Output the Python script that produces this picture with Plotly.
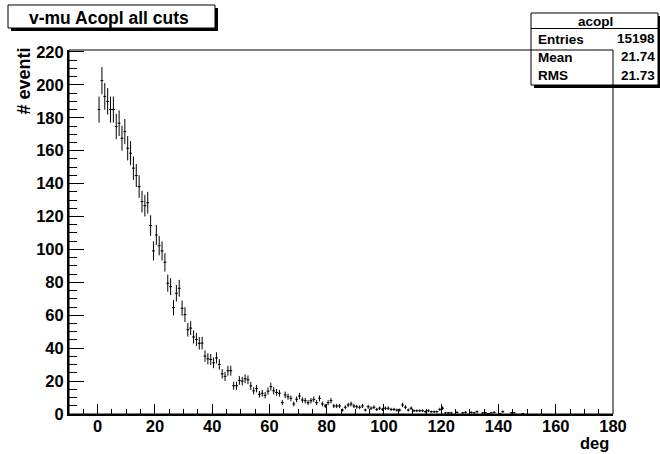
import numpy as np
import plotly.graph_objects as go

# Acoplanarity histogram: 1-degree bins starting at 0 deg (bin contents, weighted)
bin_low = 0.0
bin_width = 1.0
counts = [
    185.0, 202.6, 193.0, 190.0, 185.0, 185.0, 174.7, 176.7, 167.6, 171.6,
    161.5, 158.5, 149.4, 144.9, 138.2, 129.1, 126.6, 128.4, 114.5, 99.1,
    108.8, 102.3, 99.1, 92.2, 79.5, 77.4, 64.6, 73.4, 76.4, 64.3,
    60.4, 51.2, 52.2, 46.8, 45.3, 43.0, 43.1, 35.2, 33.6, 33.1,
    31.1, 34.1, 30.1, 24.4, 22.9, 26.3, 26.3, 17.2, 17.2, 20.4,
    20.0, 21.4, 20.8, 17.1, 14.1, 15.4, 12.0, 12.6, 11.4, 13.9,
    16.6, 14.1, 13.1, 12.6, 6.9, 11.6, 10.5, 9.5, 6.1, 8.9,
    10.9, 8.5, 8.1, 6.9, 8.1, 8.9, 6.9, 9.5, 6.1, 4.9,
    6.9, 8.1, 4.9, 4.9, 4.9, 2.4, 4.1, 5.5, 6.1, 4.9,
    4.4, 4.1, 4.9, 2.4, 4.4, 3.5, 4.1, 2.8, 3.5, 2.8,
    3.5, 3.5, 2.8, 2.8, 2.4, 2.4, 5.5, 4.1, 2.4, 3.5,
    2.0, 2.0, 2.0, 2.0, 1.4, 2.0, 1.4, 1.4, 1.4, 2.8,
    3.5, 0.7, 0.7, 0.7, 0.0, 1.0, 0.0, 0.7, 1.0, 0.0,
    1.0, 0.7, 1.4, 0.0, 0.7, 0.7, 0.3, 0.7, 1.0, 0.0,
    0.3, 1.4, 0.0, 0.0, 0.7, 0.7, 0.0, 0.0, 0.3, 0.0,
]
# per-event weight used when the histogram was filled
event_weight = 0.34

stats_labels = ["Entries", "Mean", "RMS"]
stats_values = ["15198", "21.74", "21.73"]
hist_name = "acopl"
title_text = "v-mu Acopl all cuts"

x_ticks = [0, 20, 40, 60, 80, 100, 120, 140, 160, 180]
y_ticks = [0, 20, 40, 60, 80, 100, 120, 140, 160, 180, 200, 220]

counts = np.array(counts)
centers = bin_low + bin_width * (np.arange(len(counts)) + 0.5)
errors = np.sqrt(counts * event_weight)
keep = counts > 0

W, H = 660, 454
L, R, T, B = 69, 47, 50, 40
PW, PH = W - L - R, H - T - B


def px(x):
    return (x - L) / PW


def py(y):
    return (H - B - y) / PH


FONT = "Liberation Sans, Arial, Helvetica, sans-serif"

fig = go.Figure()
fig.add_trace(go.Scatter(
    x=centers[keep], y=counts[keep], mode="markers",
    marker=dict(size=1, color="black"),
    error_y=dict(type="data", array=errors[keep], width=0, thickness=1, color="black"),
    error_x=dict(type="constant", value=bin_width / 2, width=0, thickness=1, color="black"),
    showlegend=False, hoverinfo="x+y",
))

shapes = []
# title box with drop shadow
shapes.append(dict(type="rect", xref="paper", yref="paper",
                   x0=px(11), x1=px(218), y0=py(8), y1=py(31),
                   fillcolor="black", line=dict(width=0), layer="below"))
shapes.append(dict(type="rect", xref="paper", yref="paper",
                   x0=px(8), x1=px(215), y0=py(5), y1=py(28),
                   fillcolor="white", line=dict(color="black", width=1), layer="below"))
# statistics box with drop shadow
shapes.append(dict(type="rect", xref="paper", yref="paper",
                   x0=px(534), x1=px(661), y0=py(16), y1=py(88),
                   fillcolor="black", line=dict(width=0), layer="below"))
shapes.append(dict(type="rect", xref="paper", yref="paper",
                   x0=px(531), x1=px(658), y0=py(13), y1=py(85),
                   fillcolor="white", line=dict(color="black", width=1), layer="below"))
shapes.append(dict(type="line", xref="paper", yref="paper",
                   x0=px(531), x1=px(658), y0=py(28.5), y1=py(28.5),
                   line=dict(color="black", width=1), layer="below"))
# frame
shapes.append(dict(type="rect", xref="paper", yref="paper",
                   x0=0, x1=1, y0=0, y1=1,
                   line=dict(color="black", width=1), layer="above"))
fig.update_layout(shapes=shapes)

ann = []
ann.append(dict(text=title_text, xref="paper", yref="paper", x=px(108.5), y=py(17.5),
                xanchor="center", yanchor="middle", showarrow=False,
                font=dict(family=FONT, size=17.5, color="black", weight="bold")))
ann.append(dict(text=hist_name, xref="paper", yref="paper", x=px(595), y=py(21),
                xanchor="center", yanchor="middle", showarrow=False,
                font=dict(family=FONT, size=13.5, color="black", weight="bold")))
for lab, val, yy in zip(stats_labels, stats_values, [39.5, 57.5, 76]):
    ann.append(dict(text=lab, xref="paper", yref="paper", x=px(536), y=py(yy),
                    xanchor="left", yanchor="middle", showarrow=False,
                    font=dict(family=FONT, size=13.5, color="black", weight="bold")))
    ann.append(dict(text=val, xref="paper", yref="paper", x=px(657), y=py(yy - 1),
                    xanchor="right", yanchor="middle", showarrow=False,
                    font=dict(family=FONT, size=13.5, color="black", weight="bold")))
ann.append(dict(text="deg", xref="paper", yref="paper", x=px(611), y=py(443),
                xanchor="right", yanchor="middle", showarrow=False,
                font=dict(family=FONT, size=16.5, color="black", weight="bold")))
ann.append(dict(text="# eventi", xref="paper", yref="paper", x=px(23), y=py(46),
                xanchor="center", yanchor="top", textangle=-90, showarrow=False,
                font=dict(family=FONT, size=18, color="black", weight="bold")))
fig.update_layout(annotations=ann)

fig.update_layout(
    width=W, height=H,
    margin=dict(l=L, r=R, t=T, b=B, pad=0),
    paper_bgcolor="white", plot_bgcolor="white",
    font=dict(family=FONT, color="black"),
    xaxis=dict(range=[-10, 180], tickvals=x_ticks, ticks="inside", ticklen=10,
               tickwidth=1, tickcolor="black", showgrid=False, zeroline=False,
               showline=True, linecolor="black", linewidth=2, ticklabelstandoff=-4,
               tickfont=dict(family=FONT, size=16.5, color="black", weight="bold"),
               minor=dict(dtick=5, tick0=0, ticks="inside", ticklen=5,
                          tickcolor="black", tickwidth=1, showgrid=False)),
    yaxis=dict(range=[0, 221.2], tickvals=y_ticks, ticks="inside", ticklen=15,
               tickwidth=1, tickcolor="black", showgrid=False, zeroline=False,
               showline=True, linecolor="black", linewidth=2,
               tickfont=dict(family=FONT, size=16.5, color="black", weight="bold"),
               minor=dict(dtick=5, tick0=0, ticks="inside", ticklen=8,
                          tickcolor="black", tickwidth=1, showgrid=False)),
)

fig.write_html("out.html")
